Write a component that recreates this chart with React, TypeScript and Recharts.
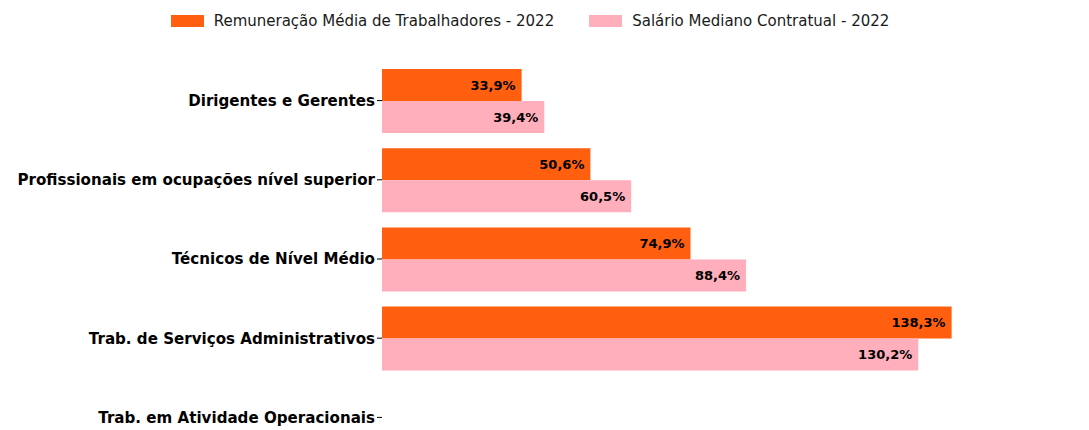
import React from 'react';
import { BarChart, Bar, XAxis, YAxis, Legend, LabelList } from 'recharts';

const categories = [
  'Dirigentes e Gerentes',
  'Profissionais em ocupações nível superior',
  'Técnicos de Nível Médio',
  'Trab. de Serviços Administrativos',
  'Trab. em Atividade Operacionais',
];
const remuneracao = [33.9, 50.6, 74.9, 138.3, null];
const salarioMediano = [39.4, 60.5, 88.4, 130.2, null];
const seriesNames = ['Remuneração Média de Trabalhadores - 2022', 'Salário Mediano Contratual - 2022'];

const ORANGE = '#FF5F0F';
const PINK = '#FFAEBB';
const FONT = '"DejaVu Sans", sans-serif';

const data = categories.map((name, i) => ({
  name,
  remuneracao: remuneracao[i],
  salario: salarioMediano[i],
}));

const ValueLabel = (props: any) => {
  const { x, y, width, height, value } = props;
  if (value === null || value === undefined) return null;
  return (
    <text
      x={Number(x) + Number(width) - 6}
      y={Number(y) + Number(height) / 2}
      textAnchor="end"
      dominantBaseline="central"
      fontFamily={FONT}
      fontWeight="bold"
      fontSize={13}
      fill="#000"
    >
      {Number(value).toFixed(1).replace('.', ',')}%
    </text>
  );
};

const LegendContent = () => (
  <div
    style={{
      height: 51,
      display: 'flex',
      justifyContent: 'center',
      alignItems: 'flex-start',
      fontFamily: FONT,
      fontSize: 15,
      color: '#1a1a1a',
    }}
  >
    {seriesNames.map((n, i) => (
      <div
        key={n}
        style={{ display: 'flex', alignItems: 'center', height: 22, marginLeft: i === 0 ? 0 : 35 }}
      >
        <span
          style={{
            display: 'inline-block',
            width: 33,
            height: 12,
            background: i === 0 ? ORANGE : PINK,
            marginRight: 10,
          }}
        />
        <span>{n}</span>
      </div>
    ))}
  </div>
);

export default function App() {
  return (
    <div
      style={{
        position: 'fixed',
        top: 0,
        left: 0,
        width: 1089,
        height: 430,
        overflow: 'hidden',
        background: '#fff',
      }}
    >
      <BarChart
        width={1089}
        height={470}
        data={data}
        layout="vertical"
        margin={{ top: 10, right: 48, bottom: 13, left: 0 }}
        barGap={0}
        barSize={32}
      >
        <Legend
          verticalAlign="top"
          align="center"
          content={<LegendContent />}
          wrapperStyle={{ left: 0, width: 1060 }}
        />
        <XAxis type="number" domain={[0, 160]} hide />
        <YAxis
          type="category"
          dataKey="name"
          width={382}
          axisLine={false}
          tickLine={{ stroke: '#000' }}
          tickSize={5}
          tickMargin={2}
          tick={{ fill: '#000', fontFamily: FONT, fontWeight: 'bold', fontSize: 15.1 }}
          interval={0}
        />
        <Bar dataKey="remuneracao" fill={ORANGE} isAnimationActive={false}>
          <LabelList dataKey="remuneracao" content={<ValueLabel />} />
        </Bar>
        <Bar dataKey="salario" fill={PINK} isAnimationActive={false}>
          <LabelList dataKey="salario" content={<ValueLabel />} />
        </Bar>
      </BarChart>
    </div>
  );
}
